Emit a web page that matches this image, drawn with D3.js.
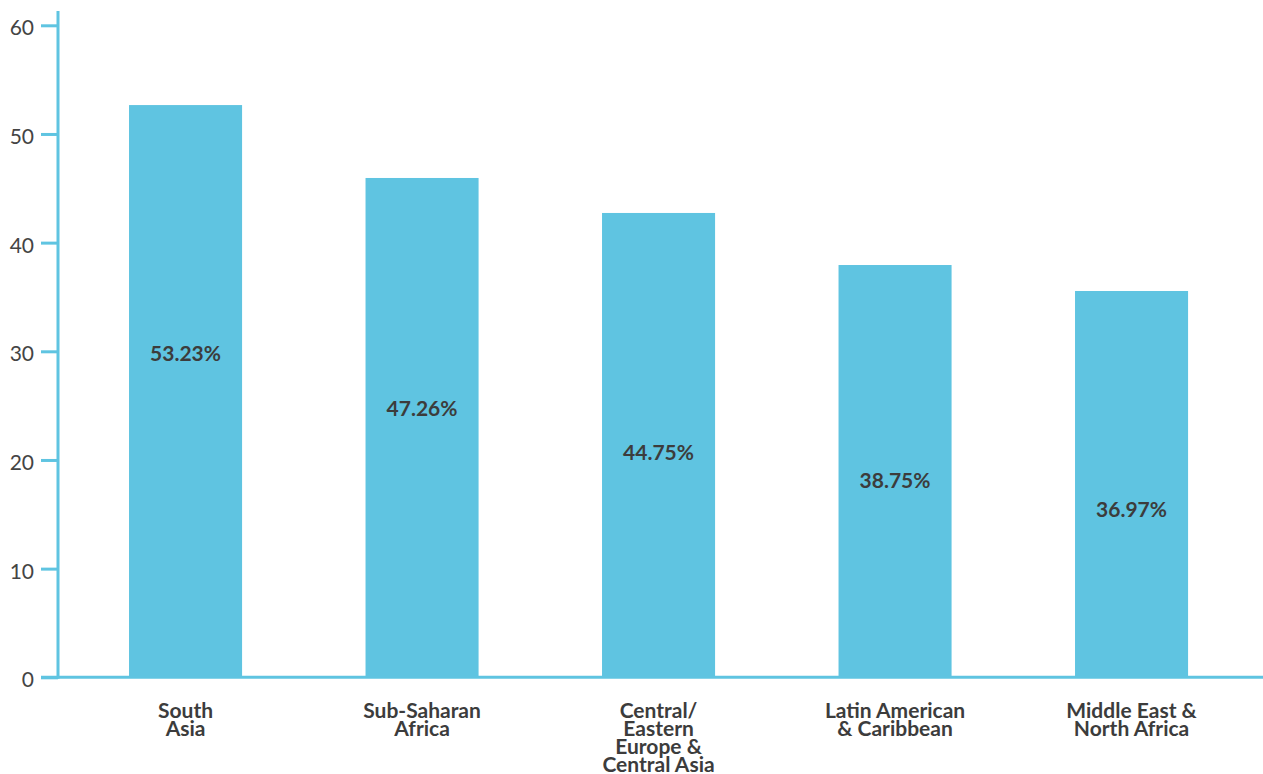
<!DOCTYPE html>
<html>
<head>
<meta charset="utf-8">
<script src="https://cdn.jsdelivr.net/npm/d3@7"></script>
<style>
  body { margin: 0; background: #fff; }
  svg { display: block; }
</style>
</head>
<body>
<div id="chart"></div>
<script>
// data
var regions = [
  ["South", "Asia"],
  ["Sub-Saharan", "Africa"],
  ["Central/", "Eastern", "Europe &", "Central Asia"],
  ["Latin American", "& Caribbean"],
  ["Middle East &", "North Africa"]
];
var barValues = [52.66, 45.95, 42.73, 37.94, 35.55];
var valueLabels = ["53.23%", "47.26%", "44.75%", "38.75%", "36.97%"];
// where each printed label sits, in axis units
var labelLevels = [29.8, 24.75, 20.73, 18.08, 15.47];
var yTicks = [0, 10, 20, 30, 40, 50, 60];

var W = 1263, H = 774;
var blue = "#5fc4e1", ink = "#3c3c3c";

var svg = d3.select("#chart").append("svg")
  .attr("width", W)
  .attr("height", H);

var x = d3.scaleBand()
  .domain(d3.range(regions.length))
  .range([67.3, 1249.8])
  .paddingInner(0.522)
  .paddingOuter(0.261);

var y = d3.scaleLinear()
  .domain([0, 60])
  .range([677.3, 25.3]);

// bars
svg.selectAll("rect.bar")
  .data(barValues)
  .enter().append("rect")
  .attr("class", "bar")
  .attr("x", function(d, i) { return x(i); })
  .attr("y", function(d) { return y(d); })
  .attr("width", x.bandwidth())
  .attr("height", function(d) { return y(0) - y(d); })
  .attr("fill", blue);

// y axis
var yAxis = svg.append("g")
  .attr("transform", "translate(58,0)")
  .call(d3.axisLeft(y).tickValues(yTicks).tickSize(17).tickPadding(7));
yAxis.select(".domain").remove();
yAxis.selectAll(".tick line")
  .attr("stroke", blue)
  .attr("stroke-width", 3);
yAxis.selectAll(".tick text")
  .attr("fill", "#444")
  .attr("dy", "0.45em")
  .style("font-family", "Lato, sans-serif")
  .style("font-size", "21px");

svg.append("line")
  .attr("x1", 58).attr("x2", 58)
  .attr("y1", 11).attr("y2", y(0) + 1.5)
  .attr("stroke", blue)
  .attr("stroke-width", 3);

svg.append("line")
  .attr("x1", 41).attr("x2", W)
  .attr("y1", y(0)).attr("y2", y(0))
  .attr("stroke", blue)
  .attr("stroke-width", 3);

// value labels inside bars
svg.selectAll("text.val")
  .data(valueLabels)
  .enter().append("text")
  .attr("class", "val")
  .attr("x", function(d, i) { return x(i) + x.bandwidth() / 2; })
  .attr("y", function(d, i) { return y(labelLevels[i]) + 7.5; })
  .attr("text-anchor", "middle")
  .attr("fill", ink)
  .style("font-family", "Lato, sans-serif")
  .style("font-weight", "bold")
  .style("font-size", "21px")
  .text(function(d) { return d; });

// category labels
var cat = svg.selectAll("text.cat")
  .data(regions)
  .enter().append("text")
  .attr("class", "cat")
  .attr("text-anchor", "middle")
  .attr("fill", ink)
  .style("font-family", "Lato, sans-serif")
  .style("font-weight", "bold")
  .style("font-size", "21px");

cat.selectAll("tspan")
  .data(function(d, i) { return d.map(function(s) { return {s: s, i: i}; }); })
  .enter().append("tspan")
  .attr("x", function(d) { return x(d.i) + x.bandwidth() / 2; })
  .attr("y", function(d, j) { return 718 + j * 18; })
  .text(function(d) { return d.s; });
</script>
</body>
</html>
